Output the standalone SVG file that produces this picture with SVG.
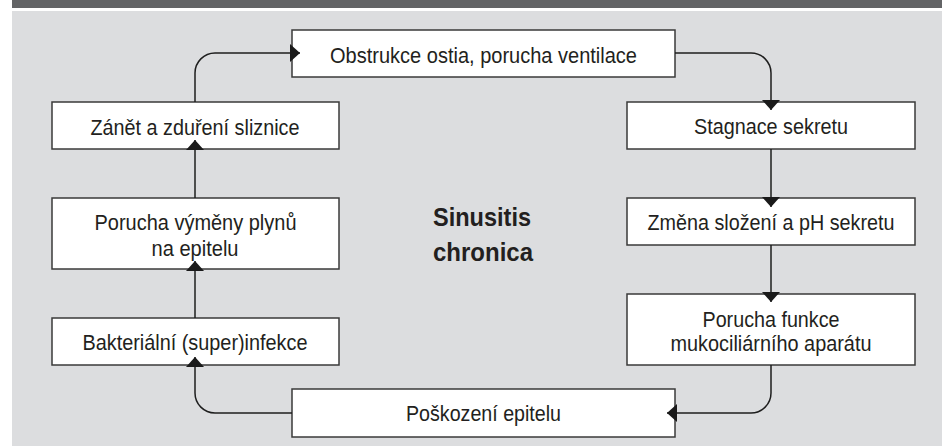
<svg xmlns="http://www.w3.org/2000/svg" width="942" height="446" viewBox="0 0 942 446">
  <style>
    .box { fill: #ffffff; stroke: #3a3a3a; stroke-width: 1.5; }
    .lbl { font-family: "Liberation Sans", Arial, sans-serif; font-size: 22px; fill: #231f20; text-anchor: middle; }
    .title { font-family: "Liberation Sans", Arial, sans-serif; font-size: 26px; font-weight: bold; fill: #231f20; }
    .conn { fill: none; stroke: #1e1e1e; stroke-width: 1.5; marker-end: url(#arrow); }
  </style>
  <defs>
    <marker id="arrow" markerUnits="userSpaceOnUse" markerWidth="10" markerHeight="18" viewBox="0 0 10 18" refX="10" refY="9" orient="auto">
      <path d="M0,0 L10,9 L0,18 z" fill="#1a1a1a"/>
    </marker>
  </defs>

  <!-- header strip and panel background -->
  <rect x="12" y="0" width="930" height="8" fill="#636466"/>
  <rect x="12" y="11" width="930" height="435" fill="#dcdddf"/>

  <!-- nodes -->
  <g id="obstrukce">
    <rect class="box" x="292" y="30" width="383" height="47"/>
    <text class="lbl" x="483.5" y="63" textLength="307" lengthAdjust="spacingAndGlyphs">Obstrukce ostia, porucha ventilace</text>
  </g>
  <g id="stagnace">
    <rect class="box" x="627" y="102" width="288" height="47"/>
    <text class="lbl" x="771" y="134" textLength="154" lengthAdjust="spacingAndGlyphs">Stagnace sekretu</text>
  </g>
  <g id="zmena">
    <rect class="box" x="627" y="198" width="288" height="47"/>
    <text class="lbl" x="771" y="230" textLength="247" lengthAdjust="spacingAndGlyphs">Změna složení a pH sekretu</text>
  </g>
  <g id="porucha-funkce">
    <rect class="box" x="627" y="294" width="288" height="71"/>
    <text class="lbl" x="771" y="326.5" textLength="137" lengthAdjust="spacingAndGlyphs">Porucha funkce</text>
    <text class="lbl" x="771" y="350.5" textLength="201" lengthAdjust="spacingAndGlyphs">mukociliárního aparátu</text>
  </g>
  <g id="poskozeni">
    <rect class="box" x="292" y="389" width="383" height="48"/>
    <text class="lbl" x="483.5" y="421" textLength="155" lengthAdjust="spacingAndGlyphs">Poškození epitelu</text>
  </g>
  <g id="bakterialni">
    <rect class="box" x="52" y="318" width="287" height="47"/>
    <text class="lbl" x="195" y="350" textLength="225" lengthAdjust="spacingAndGlyphs">Bakteriální (super)infekce</text>
  </g>
  <g id="porucha-vymeny">
    <rect class="box" x="52" y="198" width="287" height="71"/>
    <text class="lbl" x="195.5" y="230" textLength="202" lengthAdjust="spacingAndGlyphs">Porucha výměny plynů</text>
    <text class="lbl" x="195" y="255.5" textLength="87" lengthAdjust="spacingAndGlyphs">na epitelu</text>
  </g>
  <g id="zanet">
    <rect class="box" x="52" y="102" width="287" height="47"/>
    <text class="lbl" x="195" y="135" textLength="209" lengthAdjust="spacingAndGlyphs">Zánět a zduření sliznice</text>
  </g>

  <!-- centre caption -->
  <g id="caption">
    <text class="title" x="433" y="226" textLength="98" lengthAdjust="spacingAndGlyphs">Sinusitis</text>
    <text class="title" x="433" y="260.5" textLength="100" lengthAdjust="spacingAndGlyphs">chronica</text>
  </g>

  <!-- connectors (clockwise cycle) -->
  <g id="connectors">
    <path class="conn" d="M195,102 L195,73 A20,20 0 0 1 215,53 L300,53"/>
    <path class="conn" d="M675,53 L751,53 A20,20 0 0 1 771,73 L771,110"/>
    <path class="conn" d="M771,149 L771,207"/>
    <path class="conn" d="M771,245 L771,302"/>
    <path class="conn" d="M771,365 L771,393 A20,20 0 0 1 751,413 L667,413"/>
    <path class="conn" d="M292,413 L215,413 A20,20 0 0 1 195,393 L195,357"/>
    <path class="conn" d="M195,318 L195,261"/>
    <path class="conn" d="M195,198 L195,140"/>
  </g>
</svg>
